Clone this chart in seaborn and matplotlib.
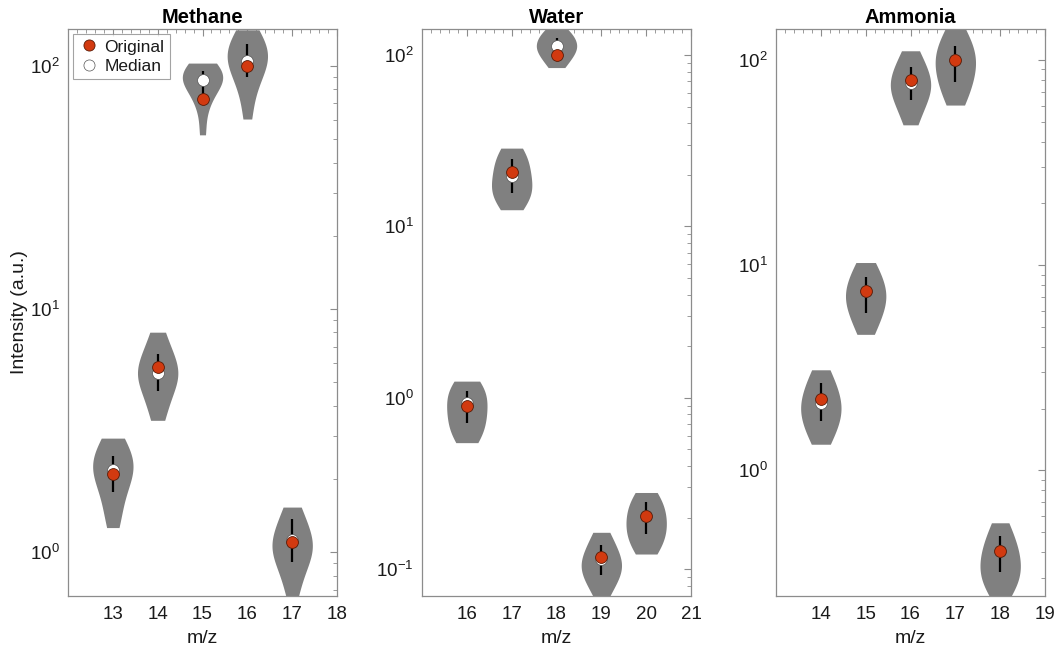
import numpy as np
import pandas as pd
import matplotlib
matplotlib.use("Agg")
import matplotlib.pyplot as plt
from matplotlib.lines import Line2D
from matplotlib.ticker import FixedLocator, MultipleLocator, LogLocator, LogFormatterMathtext, NullFormatter
import seaborn as sns

sns.set_style("white")
plt.rcParams["font.family"] = ["Liberation Sans", "DejaVu Sans"]
plt.rcParams["mathtext.default"] = "regular"
plt.rcParams["axes.unicode_minus"] = False

# ---- Methane ----
methane_mz = [13, 14, 15, 16, 17]
methane_samples = [
    [1.26, 1.45, 1.65, 1.85, 2.0, 2.1, 2.2, 2.3, 2.4, 2.55, 2.75, 2.94],
    [3.48, 4.0, 4.5, 4.9, 5.2, 5.4, 5.6, 5.9, 6.4, 7.0, 8.02],
    [52.0, 66.0, 74.0, 80.0, 84.0, 87.0, 89.0, 91.0, 93.0, 95.0, 98.0, 102.6],
    [60.4, 75.0, 85.0, 93.0, 99.0, 104.0, 108.0, 112.0, 117.0, 124.0, 132.0, 140.6],
    [0.66, 0.78, 0.88, 0.95, 1.0, 1.05, 1.1, 1.16, 1.25, 1.38, 1.53],
]
methane_original = [2.09, 5.79, 73.1, 100.0, 1.10]
methane_median = [2.17, 5.45, 87.5, 105.0, 1.12]
methane_low = [1.77, 4.61, 73.8, 89.8, 0.91]
methane_high = [2.49, 6.53, 95.3, 122.8, 1.37]

# ---- Water ----
water_mz = [16, 17, 18, 19, 20]
water_samples = [
    [0.547, 0.6, 0.66, 0.72, 0.78, 0.85, 0.92, 1.0, 1.08, 1.16, 1.25],
    [12.5, 14.0, 15.0, 16.0, 17.0, 18.5, 20.0, 22.0, 24.0, 26.0, 28.6],
    [84.4, 92.0, 98.0, 103.0, 108.0, 112.0, 116.0, 121.0, 128.0, 135.0, 141.7],
    [0.0697, 0.08, 0.088, 0.094, 0.1, 0.106, 0.113, 0.12, 0.13, 0.145, 0.164],
    [0.1225, 0.135, 0.148, 0.16, 0.172, 0.185, 0.2, 0.215, 0.235, 0.255, 0.28],
]
water_original = [0.895, 20.7, 100.0, 0.117, 0.203]
water_median = [0.927, 19.6, 112.8, 0.115, 0.203]
water_low = [0.71, 15.7, 112.8, 0.092, 0.161]
water_high = [1.10, 24.8, 125.0, 0.139, 0.247]

# ---- Ammonia ----
ammonia_mz = [14, 15, 16, 17, 18]
ammonia_samples = [
    [1.34, 1.5, 1.65, 1.78, 1.9, 2.02, 2.15, 2.3, 2.5, 2.75, 3.09],
    [4.6, 5.2, 5.7, 6.2, 6.6, 7.0, 7.4, 7.9, 8.5, 9.3, 10.3],
    [48.3, 56.0, 62.0, 67.0, 71.0, 75.0, 79.0, 84.0, 90.0, 99.0, 110.9],
    [60.3, 68.0, 75.0, 82.0, 88.0, 95.0, 101.0, 108.0, 116.0, 127.0, 141.6],
    [0.244, 0.27, 0.29, 0.31, 0.33, 0.355, 0.38, 0.41, 0.44, 0.49, 0.555],
]
ammonia_original = [2.22, 7.48, 79.9, 100.0, 0.405]
ammonia_median = [2.13, 7.48, 77.0, 100.0, 0.405]
ammonia_low = [1.73, 5.87, 63.9, 78.5, 0.319]
ammonia_high = [2.66, 8.79, 92.8, 117.0, 0.476]

panels = [
    ("Methane", methane_mz, methane_samples, methane_original, methane_median,
     methane_low, methane_high, (12, 18), [13, 14, 15, 16, 17, 18], (0.659, 141.7)),
    ("Water", water_mz, water_samples, water_original, water_median,
     water_low, water_high, (15, 21), [16, 17, 18, 19, 20, 21], (0.0697, 141.7)),
    ("Ammonia", ammonia_mz, ammonia_samples, ammonia_original, ammonia_median,
     ammonia_low, ammonia_high, (13, 19), [14, 15, 16, 17, 18, 19], (0.244, 141.6)),
]

RED = "#D23A10"
GRAY = "#808080"
SPINE = "#8c8c8c"
TEXT = "#1a1a1a"

fig = plt.figure(figsize=(10.61, 6.47), dpi=100)
lefts = [68 / 1061, 422 / 1061, 776 / 1061]
width = 269 / 1061
bottom = 51 / 647
height = 567 / 647

for i, (title, mz, samples, orig, med, lo, hi, xlim, xticks, ylim) in enumerate(panels):
    ax = fig.add_axes([lefts[i], bottom, width, height])
    df = pd.DataFrame(
        [(m, v) for m, s in zip(mz, samples) for v in s], columns=["mz", "intensity"]
    )
    sns.violinplot(
        data=df, x="mz", y="intensity", native_scale=True, log_scale=(False, True),
        cut=0, inner=None, density_norm="width", width=0.9, color=GRAY,
        saturation=1, linewidth=0, bw_adjust=1.1, ax=ax,
    )
    for coll in ax.collections:
        coll.set_alpha(1)
    ax.vlines(mz, lo, hi, color="black", linewidth=1.6, zorder=3)
    ax.plot(mz, med, linestyle="none", marker="o", markersize=8.5,
            markerfacecolor="white", markeredgecolor="#555555",
            markeredgewidth=0.5, zorder=4)
    ax.plot(mz, orig, linestyle="none", marker="o", markersize=8.5,
            markerfacecolor=RED, markeredgecolor="#5a1a05",
            markeredgewidth=0.6, zorder=5)

    ax.set_yscale("log")
    ax.set_xlim(*xlim)
    ax.set_ylim(*ylim)
    ax.xaxis.set_major_locator(FixedLocator(xticks))
    ax.xaxis.set_minor_locator(MultipleLocator(0.2))
    ax.yaxis.set_major_locator(LogLocator(base=10))
    ax.yaxis.set_major_formatter(LogFormatterMathtext())
    ax.yaxis.set_minor_locator(LogLocator(base=10, subs=np.arange(2, 10)))
    ax.yaxis.set_minor_formatter(NullFormatter())
    ax.tick_params(axis="both", which="both", direction="in", top=True,
                   right=True, color=SPINE, labelsize=13.5, labelcolor=TEXT)
    ax.tick_params(axis="x", which="major", pad=7)
    ax.tick_params(axis="y", which="major", pad=6)
    ax.tick_params(axis="both", which="major", length=5, width=0.8)
    ax.tick_params(axis="both", which="minor", length=2.8, width=0.6)
    for sp in ax.spines.values():
        sp.set_visible(True)
        sp.set_color(SPINE)
        sp.set_linewidth(0.9)
    ax.set_title(title, fontsize=14.5, fontweight="bold", pad=4, color="black")
    ax.set_xlabel("m/z", fontsize=14, color=TEXT, labelpad=5)
    if i == 0:
        ax.set_ylabel("Intensity (a.u.)", fontsize=14, color=TEXT, labelpad=1)
        handles = [
            Line2D([], [], linestyle="none", marker="o", markersize=8,
                   markerfacecolor=RED, markeredgecolor="#5a1a05",
                   markeredgewidth=0.6, label="Original"),
            Line2D([], [], linestyle="none", marker="o", markersize=8,
                   markerfacecolor="white", markeredgecolor="#555555",
                   markeredgewidth=0.5, label="Median"),
        ]
        leg = ax.legend(handles=handles, loc="upper left", fontsize=12.5,
                        frameon=True, fancybox=False, borderpad=0.3,
                        handletextpad=0.3, handlelength=1.2, labelspacing=0.25,
                        borderaxespad=0.3)
        leg.get_frame().set_edgecolor(SPINE)
        leg.get_frame().set_linewidth(0.8)
        for t in leg.get_texts():
            t.set_color(TEXT)
    else:
        ax.set_ylabel("")

fig.savefig("out.png", dpi=100)
